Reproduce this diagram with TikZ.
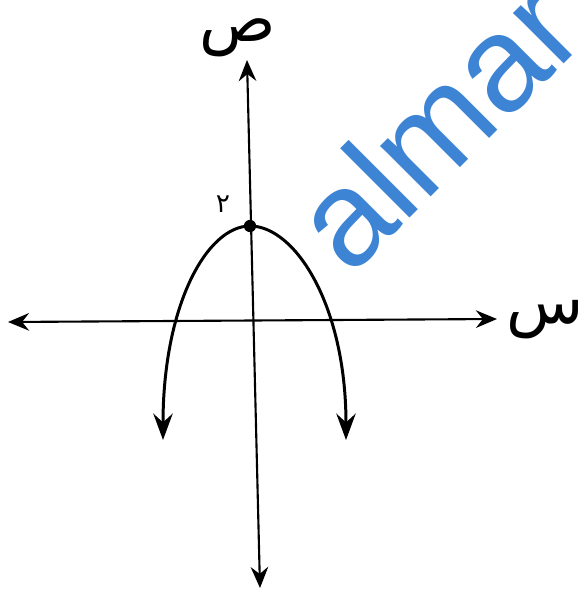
\documentclass[tikz,border=0pt]{standalone}
\usepackage{fontspec}
\usetikzlibrary{arrows.meta}
\TeXXeTstate=1
\newfontfamily\arabicfont[Script=Arabic]{DejaVu Sans}
\newfontfamily\wmfont{Liberation Sans}
\definecolor{wmblue}{RGB}{62,132,212}
\begin{document}
\begin{tikzpicture}[x=0.02cm,y=-0.02cm,
  axisline/.style={line width=1.2pt},
  curveline/.style={line width=1.7pt},
  lbl/.style={inner sep=0pt}]
\useasboundingbox (0,0) rectangle (580,595);
\clip (0,0) rectangle (580,595);
% watermark
\node[lbl, rotate=45, text=wmblue, font=\wmfont\fontsize{77}{77}\selectfont, anchor=base west] (wm) at (350,278) {almar};
% axes
\coordinate (xl) at (8,322);
\coordinate (xr) at (497,319);
\coordinate (yt) at (247,60);
\coordinate (yb) at (260,588);
\draw[axisline, {Stealth[length=12pt,width=10pt,inset=4pt]}-{Stealth[length=12pt,width=10pt,inset=4pt]}] (xl) -- (xr);
\draw[axisline, {Stealth[length=12pt,width=10pt,inset=4pt]}-{Stealth[length=12pt,width=10pt,inset=4pt]}] (yt) -- (yb);
% parabola
\node[circle, fill=black, inner sep=0pt, minimum size=7pt] (vertex) at (250,226) {};
\coordinate (lend) at (163,440);
\coordinate (rend) at (346,440);
\draw[curveline, {Stealth[length=15pt,width=11pt,inset=5pt]}-{Stealth[length=15pt,width=11pt,inset=5pt]}]
  (lend) .. controls (163,305) and (207,226) .. (vertex.center)
  .. controls (295,226) and (346,305) .. (rend);
% labels
\node[lbl] (ylab) at (238,38) {\arabicfont\fontsize{36}{36}\selectfont\beginR ص\endR};
\node[lbl] (xlab) at (545,320) {\arabicfont\fontsize{36}{36}\selectfont\beginR س\endR};
\node[lbl] (two) at (223,204) {\arabicfont\fontsize{15}{15}\selectfont\beginR ٢\endR};
\end{tikzpicture}
\end{document}
